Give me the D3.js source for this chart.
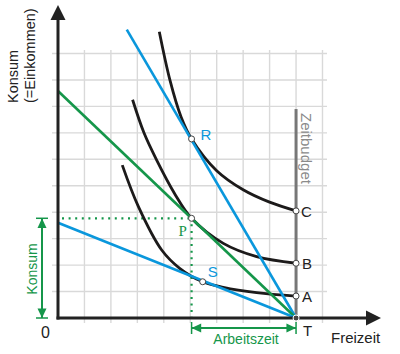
<!DOCTYPE html>
<html>
<head>
<meta charset="utf-8">
<script src="https://cdn.jsdelivr.net/npm/d3@7"></script>
<style>
  body { margin: 0; background: #fff; }
  svg text { font-family: "Liberation Sans", Arial, sans-serif; }
</style>
</head>
<body>
<svg id="chart" width="400" height="354"></svg>
<script>
/*
** Data (units = grid cells)
*/
var gridTicks = [1, 2, 3, 4, 5, 6, 7, 8, 9, 10]
  , timeBudget = 9              // T on the Freizeit axis
  , budgetTop = 7.9             // top of the Zeitbudget bar
  , curveC = [[3.83, 10.82], [4.23, 9.0], [4.65, 7.61], [5.05, 6.77], [6.0, 5.57], [7.0, 4.85], [8.0, 4.38], [9.0, 4.05]]
  , curveB = [[2.82, 8.25], [3.25, 7.0], [3.73, 5.97], [4.4, 4.72], [5.05, 3.77], [6.25, 2.82], [7.51, 2.32], [9.0, 2.07]]
  , curveA = [[2.43, 5.78], [3.04, 4.21], [3.92, 2.57], [4.6, 1.88], [5.47, 1.37], [6.25, 1.16], [7.51, 0.96], [9.0, 0.83]]
  , budgetLines = [
        { name: "steep", from: [2.6, 10.9], to: [9, 0], color: "blue" }
      , { name: "mid",   from: [0, 8.58],   to: [9, 0], color: "green" }
      , { name: "flat",  from: [0, 3.6],    to: [9, 0], color: "blue" }
    ]
  , points = [
        { label: "R", x: 5.05, y: 6.77 }
      , { label: "P", x: 5.05, y: 3.77 }
      , { label: "S", x: 5.47, y: 1.37 }
      , { label: "C", x: 9, y: 4.05 }
      , { label: "B", x: 9, y: 2.07 }
      , { label: "A", x: 9, y: 0.83 }
    ]
  , optimum = { x: 5.05, y: 3.77 } // P
;

/*
** Setup
*/
var svg = d3.select("#chart")
  , colors = { blue: "#0a97dc", green: "#15964a", black: "#1c1a1a", grid: "#d9d9d9", ink: "#222" }
  , unit = 26.45
  , x = d3.scaleLinear().domain([0, 1]).range([58, 58 + unit])
  , y = d3.scaleLinear().domain([0, 1]).range([318, 318 - unit])
  , line = d3.line()
        .x(function(d) { return x(d[0]); })
        .y(function(d) { return y(d[1]); })
;

// grid
var grid = svg.append("g").attr("class", "grid")
    .attr("stroke", colors.grid)
    .attr("stroke-width", 1.4)
;
grid.selectAll("line.v").data(gridTicks)
  .enter().append("line")
    .attr("class", "v")
    .attr("x1", function(d) { return x(d); })
    .attr("x2", function(d) { return x(d); })
    .attr("y1", 50)
    .attr("y2", 323)
;
grid.selectAll("line.h").data(gridTicks)
  .enter().append("line")
    .attr("class", "h")
    .attr("y1", function(d) { return y(d); })
    .attr("y2", function(d) { return y(d); })
    .attr("x1", 52)
    .attr("x2", 327)
;

// Zeitbudget bar
svg.append("line")
    .attr("x1", x(timeBudget)).attr("x2", x(timeBudget))
    .attr("y1", y(budgetTop)).attr("y2", y(0))
    .attr("stroke", "#777")
    .attr("stroke-width", 3)
;
svg.append("text")
    .attr("transform", "translate(" + (x(timeBudget) + 5) + "," + y(budgetTop - 0.15) + ") rotate(90)")
    .attr("font-size", 15)
    .attr("fill", "#8a8a8a")
    .text("Zeitbudget")
;

// dotted guides to P
var dots = svg.append("g")
    .attr("stroke", colors.green)
    .attr("stroke-width", 2.2)
    .attr("stroke-dasharray", "2 4.6")
;
dots.append("line")
    .attr("x1", x(0) + 4).attr("x2", x(optimum.x))
    .attr("y1", y(optimum.y)).attr("y2", y(optimum.y))
;
dots.append("line")
    .attr("x1", x(optimum.x)).attr("x2", x(optimum.x))
    .attr("y1", y(optimum.y) + 6).attr("y2", y(0))
;

// indifference curves
svg.selectAll("path.curve").data([curveC, curveB, curveA])
  .enter().append("path")
    .attr("class", "curve")
    .attr("d", line.curve(d3.curveCatmullRom.alpha(0.5)))
    .attr("fill", "none")
    .attr("stroke", colors.black)
    .attr("stroke-width", 2.8)
;

// budget lines
svg.selectAll("line.budget").data(budgetLines)
  .enter().append("line")
    .attr("class", "budget")
    .attr("x1", function(d) { return x(d.from[0]); })
    .attr("y1", function(d) { return y(d.from[1]); })
    .attr("x2", function(d) { return x(d.to[0]); })
    .attr("y2", function(d) { return y(d.to[1]); })
    .attr("stroke", function(d) { return colors[d.color]; })
    .attr("stroke-width", 2.6)
;

// axes with arrow heads
var axes = svg.append("g").attr("fill", colors.ink);
axes.append("line")
    .attr("x1", x(0)).attr("x2", x(0))
    .attr("y1", y(0) + 1.5).attr("y2", 16)
    .attr("stroke", colors.ink).attr("stroke-width", 3)
;
axes.append("line")
    .attr("x1", x(0) - 1.5).attr("x2", 370)
    .attr("y1", y(0)).attr("y2", y(0))
    .attr("stroke", colors.ink).attr("stroke-width", 3)
;
axes.append("path").attr("d", "M" + x(0) + ",5L" + (x(0) - 7.5) + ",20L" + (x(0) + 7.5) + ",20Z");
axes.append("path").attr("d", "M381," + y(0) + "L366," + (y(0) - 7.5) + "L366," + (y(0) + 7.5) + "Z");

// marked points
svg.selectAll("circle.pt").data(points)
  .enter().append("circle")
    .attr("class", "pt")
    .attr("cx", function(d) { return x(d.x); })
    .attr("cy", function(d) { return y(d.y); })
    .attr("r", 3)
    .attr("fill", "#fff")
    .attr("stroke", "#444")
    .attr("stroke-width", 1)
;
svg.append("circle")
    .attr("cx", x(timeBudget)).attr("cy", y(0)).attr("r", 3)
    .attr("fill", "#444").attr("stroke", "#fff").attr("stroke-width", 1)
;

// point labels
function pointLabel(txt, px, py, color, font) {
    var t = svg.append("text")
        .attr("x", px).attr("y", py)
        .attr("font-size", 15)
        .attr("fill", color)
        .text(txt)
    ;
    if(font) t.style("font-family", font);
    return t;
} // pointLabel()

pointLabel("R", x(5.05) + 9, y(6.77) + 1, colors.blue);
pointLabel("S", x(5.47) + 5, y(1.37) - 5, colors.blue);
pointLabel("P", x(5.05) - 13, y(3.77) + 18, colors.green, "'Liberation Serif', serif");
pointLabel("C", x(9) + 5, y(4.05) + 6, colors.ink);
pointLabel("B", x(9) + 6, y(2.07) + 6, colors.ink);
pointLabel("A", x(9) + 6, y(0.83) + 6, colors.ink);
pointLabel("T", x(9) + 7, y(0) + 18, colors.ink);
pointLabel("0", 41, y(0) + 20, colors.ink).attr("font-size", 16);
pointLabel("Freizeit", 331, y(0) + 25, colors.ink).attr("font-size", 15);

// y axis title
var ytitle = svg.append("text")
    .attr("transform", "translate(0,103) rotate(-90)")
    .attr("font-size", 14.5)
    .attr("fill", colors.ink)
;
ytitle.append("tspan").attr("x", 0).attr("y", 18).text("Konsum");
ytitle.append("tspan").attr("x", 0).attr("y", 35).text("(=Einkommen)");

/*
** Double arrows: Konsum and Arbeitszeit
*/
function doubleArrow(x1, y1, x2, y2, label, lx, ly, rot) {
    var g = svg.append("g")
        .attr("stroke", colors.green)
        .attr("fill", colors.green)
      , vertical = x1 === x2
      , h = 6, w = 4.5
    ;
    g.append("line")
        .attr("x1", x1).attr("y1", y1).attr("x2", x2).attr("y2", y2)
        .attr("stroke-width", 2)
    ;
    if(vertical) {
        g.append("path").attr("stroke", "none")
            .attr("d", "M" + x1 + "," + y1 + "l" + (-w) + "," + h * 1.6 + "l" + (2 * w) + ",0Z");
        g.append("path").attr("stroke", "none")
            .attr("d", "M" + x2 + "," + y2 + "l" + (-w) + "," + (-h * 1.6) + "l" + (2 * w) + ",0Z");
        g.append("line").attr("x1", x1 - 6).attr("x2", x1 + 6).attr("y1", y1).attr("y2", y1).attr("stroke-width", 1.5);
        g.append("line").attr("x1", x2 - 6).attr("x2", x2 + 6).attr("y1", y2).attr("y2", y2).attr("stroke-width", 1.5);
    } else {
        g.append("path").attr("stroke", "none")
            .attr("d", "M" + x1 + "," + y1 + "l" + h * 1.6 + "," + (-w) + "l0," + (2 * w) + "Z");
        g.append("path").attr("stroke", "none")
            .attr("d", "M" + x2 + "," + y2 + "l" + (-h * 1.6) + "," + (-w) + "l0," + (2 * w) + "Z");
        g.append("line").attr("y1", y1 - 6).attr("y2", y1 + 6).attr("x1", x1).attr("x2", x1).attr("stroke-width", 1.5);
        g.append("line").attr("y1", y2 - 6).attr("y2", y2 + 6).attr("x1", x2).attr("x2", x2).attr("stroke-width", 1.5);
    }
    svg.append("text")
        .attr("transform", "translate(" + lx + "," + ly + ") rotate(" + rot + ")")
        .attr("text-anchor", "middle")
        .attr("font-size", 14)
        .attr("fill", colors.green)
        .text(label)
    ;
} // doubleArrow()

doubleArrow(42, y(optimum.y), 42, y(0), "Konsum", 37, 269, -90);
doubleArrow(x(optimum.x), 328, x(timeBudget), 328, "Arbeitszeit", 246, 344, 0);
</script>
</body>
</html>
